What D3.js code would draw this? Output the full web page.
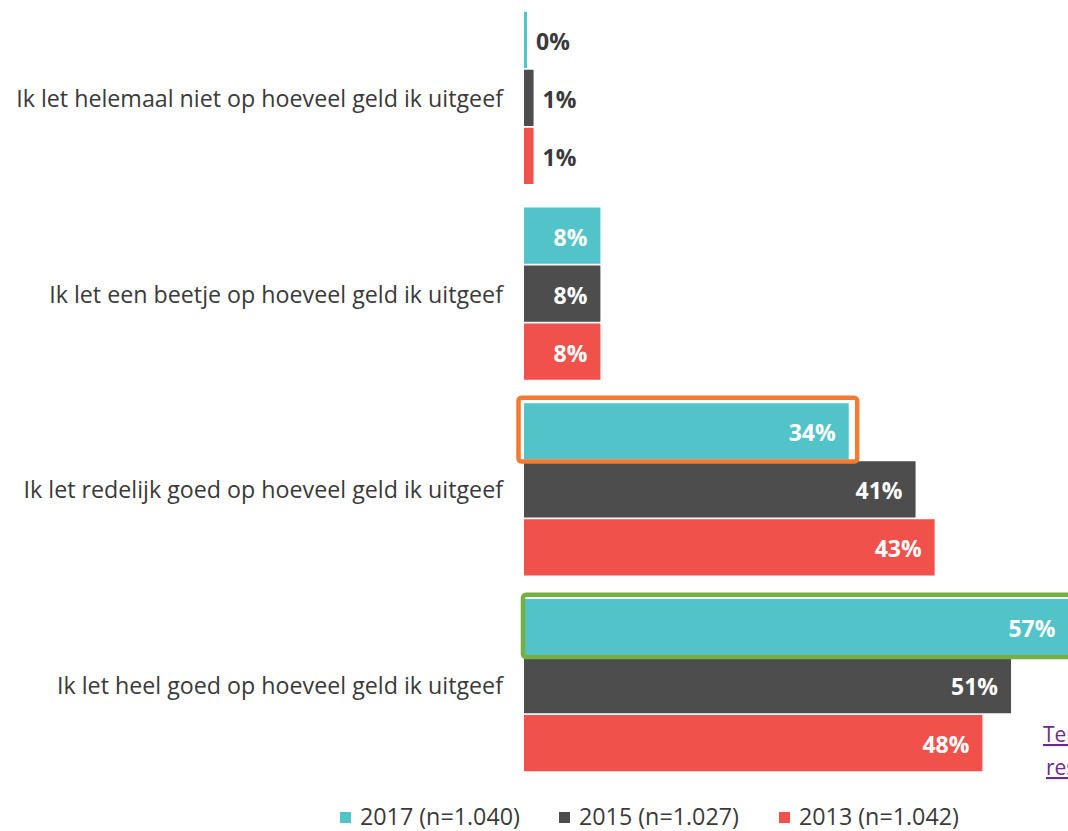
<!DOCTYPE html>
<html>
<head>
<meta charset="utf-8">
<script src="https://cdn.jsdelivr.net/npm/d3@7"></script>
<style>
  html, body { margin: 0; padding: 0; background: #fff; }
  svg { display: block; font-family: "Open Sans", Lato, sans-serif; }
</style>
</head>
<body>
<svg id="chart" width="1068" height="831"></svg>
<script>
// Answers per category, one array per survey year
const categories = [
  "Ik let helemaal niet op hoeveel geld ik uitgeef",
  "Ik let een beetje op hoeveel geld ik uitgeef",
  "Ik let redelijk goed op hoeveel geld ik uitgeef",
  "Ik let heel goed op hoeveel geld ik uitgeef"
];
const seriesNames = ["2017 (n=1.040)", "2015 (n=1.027)", "2013 (n=1.042)"];
const values2017 = [0, 8, 34, 57];
const values2015 = [1, 8, 41, 51];
const values2013 = [1, 8, 43, 48];
const linkLines = ["Terug naar", "resultaten"];

const seriesValues = [values2017, values2015, values2013];
const colors = ["#53c3ca", "#4d4d4d", "#f0514a"];

const svg = d3.select("#chart");
const x0 = 524;

const x = d3.scaleLinear().domain([0, 100]).range([x0, x0 + 955]);
const y = d3.scaleBand().domain(categories).range([0, 783])
  .paddingInner(0.12).paddingOuter(0.06);
const ySub = d3.scaleBand().domain(seriesNames).range([0, y.bandwidth()])
  .paddingInner(0.03);

const rows = [];
categories.forEach((c, ci) => {
  seriesNames.forEach((s, si) => {
    rows.push({ cat: c, ci, series: s, si, value: seriesValues[si][ci] });
  });
});

const g = svg.append("g");

// size a text selection so that a reference string spans the given width
function fitFont(sel, sample, targetWidth, base, weight) {
  const probe = svg.append("text").attr("font-size", base)
    .attr("font-weight", weight || "normal").text(sample);
  const w = probe.node().getComputedTextLength();
  probe.remove();
  const size = base * targetWidth / w;
  sel.attr("font-size", size);
  return size;
}

// category labels
const catText = g.selectAll("text.cat").data(categories).join("text")
  .attr("class", "cat")
  .attr("x", 503)
  .attr("y", d => y(d) + y.bandwidth() / 2)
  .attr("text-anchor", "end")
  .attr("dominant-baseline", "central")
  .attr("fill", "#3a3a3a")
  .text(d => d);
fitFont(catText, categories[0], 487, 20);

// bars
const barY = d => y(d.cat) + ySub(d.series);
const barW = d => Math.max(x(d.value) - x0, 3);
g.selectAll("rect.bar").data(rows).join("rect")
  .attr("class", "bar")
  .attr("x", x0)
  .attr("y", barY)
  .attr("width", barW)
  .attr("height", ySub.bandwidth())
  .attr("fill", d => colors[d.si]);

// value labels
const valText = g.selectAll("text.val").data(rows).join("text")
  .attr("class", "val")
  .attr("x", d => d.value >= 5 ? x0 + barW(d) - 13 : x0 + barW(d) + 9)
  .attr("y", d => barY(d) + ySub.bandwidth() / 2 + 1)
  .attr("text-anchor", d => d.value >= 5 ? "end" : "start")
  .attr("dominant-baseline", "central")
  .attr("font-weight", "bold")
  .attr("fill", d => d.value >= 5 ? "#ffffff" : "#3a3a3a")
  .text(d => d.value + "%");
fitFont(valText, "34%", 47, 20, "bold");

// highlight frames around the 2017 bars
const highlights = [
  { ci: 2, stroke: "#f47a2f", dx0: -5.5, dx1: 8.5, dy0: -5.5, dy1: 2 },
  { ci: 3, stroke: "#75b043", dx0: -1, dx1: 8.5, dy0: -4.3, dy1: 1.7 }
];
highlights.forEach(h => {
  const d = rows.find(r => r.ci === h.ci && r.si === 0);
  const by = barY(d), bw = barW(d), bh = ySub.bandwidth();
  g.append("rect")
    .attr("x", x0 + h.dx0)
    .attr("y", by + h.dy0)
    .attr("width", bw + h.dx1 - h.dx0)
    .attr("height", bh + h.dy1 - h.dy0)
    .attr("rx", 3)
    .attr("fill", "none")
    .attr("stroke", h.stroke)
    .attr("stroke-width", 4.5);
});

// legend
const legendX = [340, 559, 779];
const legend = g.selectAll("g.leg").data(seriesNames).join("g")
  .attr("class", "leg")
  .attr("transform", (d, i) => `translate(${legendX[i]},816)`);
legend.append("rect")
  .attr("x", 0).attr("y", -4).attr("width", 11).attr("height", 11)
  .attr("fill", (d, i) => colors[i]);
const legText = legend.append("text")
  .attr("x", 20).attr("y", 0)
  .attr("dominant-baseline", "central")
  .attr("fill", "#3a3a3a")
  .text(d => d);
fitFont(legText, seriesNames[0], 160, 20);

// navigation link at the right edge
g.selectAll("text.link").data(linkLines).join("text")
  .attr("class", "link")
  .attr("x", (d, i) => i === 0 ? 1043 : 1046)
  .attr("y", (d, i) => 742 + i * 33)
  .attr("font-size", 21)
  .attr("fill", "#6a2c8e")
  .style("text-decoration", "underline")
  .text(d => d);
</script>
</body>
</html>
